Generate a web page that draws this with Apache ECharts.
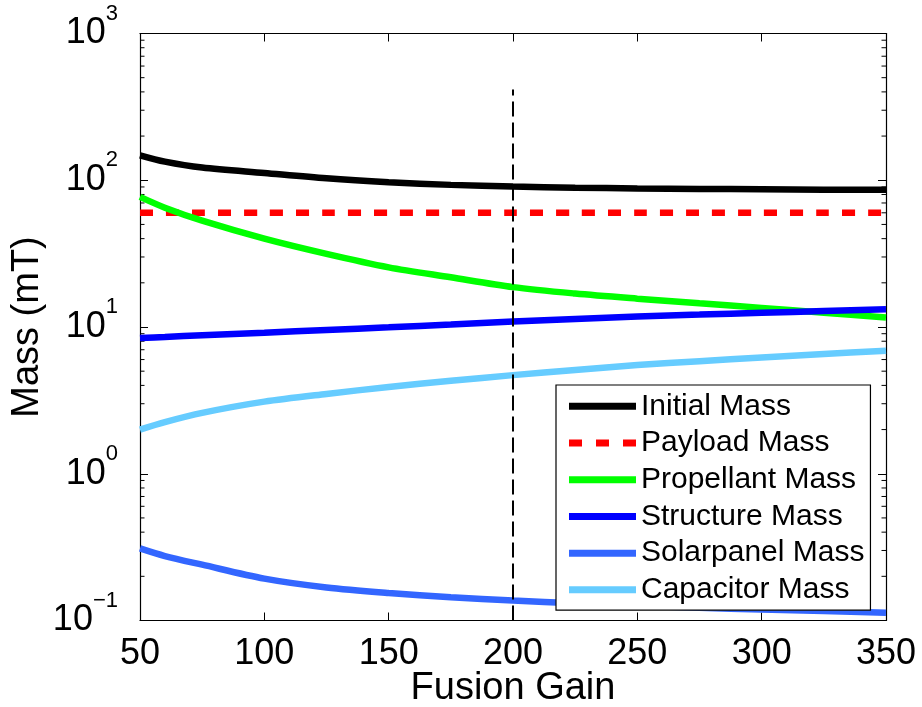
<!DOCTYPE html>
<html>
<head>
<meta charset="utf-8">
<style>
  html, body { margin: 0; padding: 0; background: #fff; }
  #chart { width: 922px; height: 707px; }
</style>
<script src="https://cdn.jsdelivr.net/npm/echarts@6/dist/echarts.min.js"></script>
</head>
<body>
<div id="chart"></div>
<script>
// fusion gain samples
var gain = [50, 60, 75, 100, 125, 150, 175, 200, 225, 250, 275, 300, 325, 350]
// masses in mT
var initialMass = [148, 134, 122, 112, 103, 97, 93, 90.5, 89, 88, 87.3, 86.8, 86.3, 86]
var payloadMass = [60, 60, 60, 60, 60, 60, 60, 60, 60, 60, 60, 60, 60, 60]
var propellantMass = [77, 65, 53, 40, 31.5, 25.5, 21.8, 18.7, 16.9, 15.6, 14.5, 13.5, 12.5, 11.6]
var structureMass = [8.4, 8.55, 8.8, 9.15, 9.55, 9.95, 10.4, 10.9, 11.35, 11.8, 12.15, 12.5, 12.85, 13.2]
var solarpanelMass = [0.31, 0.275, 0.24, 0.193, 0.168, 0.154, 0.144, 0.137, 0.131, 0.126, 0.122, 0.119, 0.116, 0.113]
var capacitorMass = [2.0, 2.25, 2.6, 3.1, 3.5, 3.9, 4.3, 4.7, 5.1, 5.5, 5.85, 6.2, 6.55, 6.9]
// vertical marker at the chosen gain
var markGain = 200
var markTop = 415
var xTicks = [50, 100, 150, 200, 250, 300, 350]
var yDecades = [0.1, 1, 10, 100, 1000]

var font = 'Liberation Sans, Arial, Helvetica, sans-serif'

function pairs (ys) {
  return gain.map(function (g, i) { return [g, ys[i]] })
}

// minor ticks for the log axis (2..9 in every decade)
var minorTicks = []
for (var d = 0; d < yDecades.length - 1; d++) {
  for (var m = 2; m <= 9; m++) {
    minorTicks.push([xTicks[0], yDecades[d] * m])
  }
}

function lineSeries (name, ys, color, type) {
  return {
    name: name,
    type: 'line',
    data: pairs(ys),
    showSymbol: false,
    symbol: 'none',
    smooth: 0.3,
    lineStyle: { color: color, width: 6.5, type: type || 'solid' },
    itemStyle: { color: color }
  }
}

var yLabel = {
  fontFamily: font,
  color: '#000',
  margin: 22,
  formatter: function (v) {
    var e = Math.round(Math.log10(v))
    return '{b|10}{e|' + e.toString().replace('-', '\u2212') + '}'
  },
  rich: {
    b: { fontSize: 36, lineHeight: 62, fontFamily: font, color: '#000' },
    e: { fontSize: 22, lineHeight: 22, verticalAlign: 'top', fontFamily: font, color: '#000' }
  }
}

var solidIcon = 'rect'
var dashIcon = 'path://M0,0h13v7h-13z M27,0h13v7h-13z M54,0h13v7h-13z'

var chart = echarts.init(document.getElementById('chart'))
var payload = lineSeries('Payload Mass', payloadMass, '#ff0000', [13, 13])
var capacitor = lineSeries('Capacitor Mass', capacitorMass, '#66ccff')
capacitor.markLine = {
  silent: true,
  symbol: 'none',
  label: { show: false },
  lineStyle: { color: '#000', width: 2, type: [15, 6] },
  data: [[{ coord: [markGain, yDecades[0]] }, { coord: [markGain, markTop] }]]
}

chart.setOption({
  animation: false,
  backgroundColor: '#fff',
  grid: { left: 140, right: 36, top: 33.5, bottom: 86.5, outerBoundsMode: 'none', containLabel: false },
  legend: {
    data: [
      { name: 'Initial Mass', icon: solidIcon },
      { name: 'Payload Mass', icon: dashIcon },
      { name: 'Propellant Mass', icon: solidIcon },
      { name: 'Structure Mass', icon: solidIcon },
      { name: 'Solarpanel Mass', icon: solidIcon },
      { name: 'Capacitor Mass', icon: solidIcon }
    ],
    orient: 'vertical',
    left: 556,
    top: 385,
    width: 319,
    padding: [3, 6, 2, 13],
    itemGap: 0,
    itemWidth: 67,
    itemHeight: 7,
    backgroundColor: '#fff',
    borderColor: '#000',
    borderWidth: 1.2,
    borderRadius: 0,
    textStyle: { fontFamily: font, fontSize: 30, lineHeight: 36.7, color: '#000' }
  },
  xAxis: [{
    type: 'value',
    min: xTicks[0],
    max: xTicks[xTicks.length - 1],
    interval: 50,
    name: 'Fusion Gain',
    nameLocation: 'middle',
    nameMoveOverlap: false,
    nameGap: 49,
    nameTextStyle: { fontFamily: font, fontSize: 38, color: '#000' },
    axisLine: { show: true, lineStyle: { color: '#000', width: 1.2 } },
    axisTick: { show: true, inside: true, length: 8, lineStyle: { color: '#000' } },
    axisLabel: { fontFamily: font, fontSize: 36, color: '#000', margin: 16 },
    splitLine: { show: false }
  }, {
    type: 'value',
    position: 'top',
    min: xTicks[0],
    max: xTicks[xTicks.length - 1],
    interval: 50,
    axisLine: { show: true, lineStyle: { color: '#000', width: 1.2 } },
    axisTick: { show: true, inside: true, length: 8, lineStyle: { color: '#000' } },
    axisLabel: { show: false },
    splitLine: { show: false }
  }],
  yAxis: [{
    type: 'log',
    logBase: 10,
    min: yDecades[0],
    max: yDecades[yDecades.length - 1],
    name: 'Mass (mT)',
    nameLocation: 'middle',
    nameMoveOverlap: false,
    nameGap: 93,
    nameTextStyle: { fontFamily: font, fontSize: 38, color: '#000' },
    axisLine: { show: true, lineStyle: { color: '#000', width: 1.2 } },
    axisTick: { show: true, inside: true, length: 8, lineStyle: { color: '#000' } },
    axisLabel: yLabel,
    splitLine: { show: false }
  }, {
    type: 'log',
    logBase: 10,
    position: 'right',
    min: yDecades[0],
    max: yDecades[yDecades.length - 1],
    axisLine: { show: true, lineStyle: { color: '#000', width: 1.2 } },
    axisTick: { show: true, inside: true, length: 8, lineStyle: { color: '#000' } },
    axisLabel: { show: false },
    splitLine: { show: false }
  }],
  series: [
    lineSeries('Initial Mass', initialMass, '#000000'),
    payload,
    lineSeries('Propellant Mass', propellantMass, '#00ff00'),
    lineSeries('Structure Mass', structureMass, '#0000ff'),
    lineSeries('Solarpanel Mass', solarpanelMass, '#3366ff'),
    capacitor,
    {
      type: 'custom',
      silent: true,
      data: minorTicks,
      renderItem: function (params, api) {
        var v = api.value(1)
        var l = api.coord([xTicks[0], v])
        var r = api.coord([xTicks[xTicks.length - 1], v])
        return {
          type: 'group',
          children: [
            { type: 'line', shape: { x1: l[0], y1: l[1], x2: l[0] + 4.5, y2: l[1] }, style: { stroke: '#000', lineWidth: 1 } },
            { type: 'line', shape: { x1: r[0], y1: r[1], x2: r[0] - 4.5, y2: r[1] }, style: { stroke: '#000', lineWidth: 1 } }
          ]
        }
      }
    }
  ]
})
</script>
</body>
</html>
